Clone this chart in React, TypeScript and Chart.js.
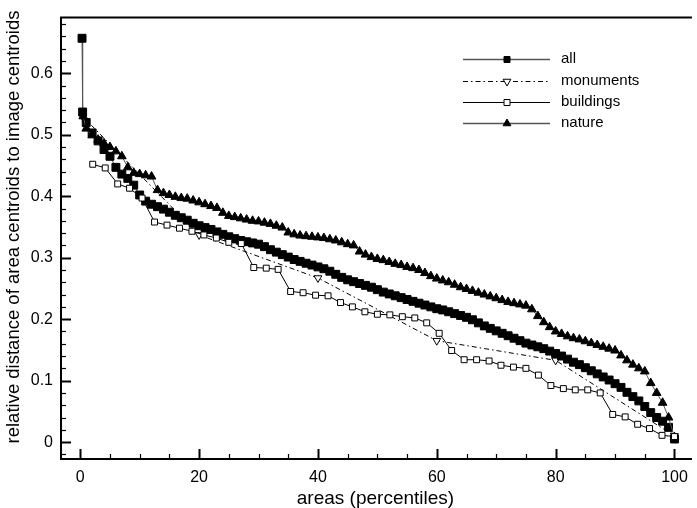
import { useEffect, useRef } from 'react';
import { Chart, registerables } from 'chart.js';

Chart.register(...registerables);

// ---- data ----
const allX = [0.3, 0.4, 1, 2, 3, 4, 5, 6, 7, 8, 9, 10, 11, 12, 13, 14, 15, 16, 17, 18, 19, 20, 21, 22, 23, 24, 25, 26, 27, 28, 29, 30, 31, 32, 33, 34, 35, 36, 37, 38, 39, 40, 41, 42, 43, 44, 45, 46, 47, 48, 49, 50, 51, 52, 53, 54, 55, 56, 57, 58, 59, 60, 61, 62, 63, 64, 65, 66, 67, 68, 69, 70, 71, 72, 73, 74, 75, 76, 77, 78, 79, 80, 81, 82, 83, 84, 85, 86, 87, 88, 89, 90, 91, 92, 93, 94, 95, 96, 97, 98, 99, 100];
const allY = [0.657, 0.537,
  0.52, 0.503, 0.49, 0.476, 0.465, 0.447, 0.436, 0.429, 0.418, 0.402,
  0.392, 0.387, 0.383, 0.379, 0.374, 0.369, 0.365, 0.361, 0.356, 0.352,
  0.349, 0.346, 0.342, 0.338, 0.334, 0.331, 0.328, 0.326, 0.324, 0.322,
  0.318, 0.313, 0.309, 0.305, 0.301, 0.297, 0.294, 0.291, 0.288, 0.285,
  0.282, 0.278, 0.273, 0.268, 0.264, 0.261, 0.258, 0.255, 0.252, 0.248,
  0.244, 0.241, 0.238, 0.235, 0.232, 0.229, 0.226, 0.223, 0.220, 0.217,
  0.215, 0.212, 0.209, 0.206, 0.203, 0.199, 0.194, 0.189, 0.185, 0.181,
  0.177, 0.173, 0.169, 0.165, 0.161, 0.158, 0.155, 0.152, 0.148, 0.144,
  0.140, 0.135, 0.130, 0.126, 0.121, 0.116, 0.111, 0.106, 0.101, 0.095,
  0.089, 0.081, 0.074, 0.067, 0.058, 0.048, 0.040, 0.034, 0.024, 0.005];

const monumentsX = [0.4, 20, 40, 60, 80, 100];
const monumentsY = [0.53, 0.337, 0.267, 0.165, 0.133, 0.01];

const buildingsX = [2.1, 4.2, 6.3, 8.3, 10.4, 12.5, 14.6, 16.7, 18.8, 20.8, 22.9, 25.0, 27.1, 29.2, 31.3, 33.3, 35.4, 37.5, 39.6, 41.7, 43.8, 45.8, 47.9, 50.0, 52.1, 54.2, 56.3, 58.3, 60.4, 62.5, 64.6, 66.7, 68.8, 70.8, 72.9, 75.0, 77.1, 79.2, 81.3, 83.3, 85.4, 87.5, 89.6, 91.7, 93.8, 95.8, 97.9, 100];
const buildingsY = [0.452, 0.446, 0.420, 0.413, 0.397, 0.358, 0.353, 0.348, 0.343, 0.337, 0.332, 0.325,
  0.323, 0.284, 0.283, 0.281, 0.245, 0.243, 0.239, 0.238, 0.227, 0.220, 0.212, 0.208,
  0.207, 0.204, 0.202, 0.194, 0.177, 0.149, 0.134, 0.134, 0.132, 0.125, 0.122, 0.120,
  0.109, 0.092, 0.087, 0.085, 0.085, 0.080, 0.045, 0.041, 0.029, 0.022, 0.011, 0.009];

const natureX = [0.5, 1, 2, 3, 4, 5, 6, 7, 8, 9, 10, 11, 12, 13, 14, 15, 16, 17, 18, 19, 20, 21, 22, 23, 24, 25, 26, 27, 28, 29, 30, 31, 32, 33, 34, 35, 36, 37, 38, 39, 40, 41, 42, 43, 44, 45, 46, 47, 48, 49, 50, 51, 52, 53, 54, 55, 56, 57, 58, 59, 60, 61, 62, 63, 64, 65, 66, 67, 68, 69, 70, 71, 72, 73, 74, 75, 76, 77, 78, 79, 80, 81, 82, 83, 84, 85, 86, 87, 88, 89, 90, 91, 92, 93, 94, 95, 96, 97, 98, 99, 100];
const natureY = [0.53,
  0.51, 0.499, 0.492, 0.486, 0.48, 0.473, 0.465, 0.447, 0.438, 0.436,
  0.434, 0.432, 0.41, 0.405, 0.402, 0.399, 0.397, 0.396, 0.393, 0.390,
  0.387, 0.384, 0.381, 0.373, 0.368, 0.366, 0.364, 0.362, 0.360, 0.359,
  0.357, 0.355, 0.352, 0.349, 0.341, 0.338, 0.336, 0.335, 0.334, 0.333,
  0.332, 0.330, 0.328, 0.325, 0.322, 0.320, 0.310, 0.305, 0.301, 0.298,
  0.296, 0.293, 0.290, 0.288, 0.285, 0.283, 0.280, 0.275, 0.270, 0.266,
  0.263, 0.260, 0.256, 0.252, 0.249, 0.246, 0.243, 0.240, 0.237, 0.234,
  0.231, 0.228, 0.226, 0.224, 0.222, 0.216, 0.205, 0.195, 0.187, 0.180,
  0.176, 0.172, 0.169, 0.167, 0.164, 0.161, 0.158, 0.155, 0.152, 0.149,
  0.141, 0.133, 0.126, 0.120, 0.115, 0.096, 0.080, 0.064, 0.040, 0.008];

const seriesNames = ['all', 'monuments', 'buildings', 'nature'];
const xTitle = 'areas (percentiles)';
const yTitle = 'relative distance of area centroids to image centroids';

const FONT = "'Liberation Sans', Arial, Helvetica, sans-serif";

function pts(xs: number[], ys: number[]) {
  return xs.map((x, i) => ({ x, y: ys[i] }));
}

function isMult(v: number, step: number) {
  const r = v / step;
  return Math.abs(r - Math.round(r)) < 1e-6;
}

const framePlugin = {
  id: 'frameTicks',
  afterDraw(chart: any) {
    const { ctx, chartArea } = chart;
    const xs = chart.scales.x;
    const ys = chart.scales.y;
    ctx.save();
    ctx.strokeStyle = '#000';
    xs.ticks.forEach((t: any) => {
      if (!isMult(t.value, 5)) return;
      const major = isMult(t.value, 20);
      const px = Math.round(xs.getPixelForValue(t.value)) + 0.5;
      ctx.lineWidth = major ? 2 : 1.2;
      ctx.beginPath();
      ctx.moveTo(px, chartArea.bottom);
      ctx.lineTo(px, chartArea.bottom - (major ? 10 : 5));
      ctx.stroke();
    });
    ys.ticks.forEach((t: any) => {
      if (!isMult(t.value, 0.02)) return;
      const major = isMult(t.value, 0.1);
      const py = Math.round(ys.getPixelForValue(t.value)) + 0.5;
      ctx.lineWidth = major ? 2 : 1.2;
      ctx.beginPath();
      ctx.moveTo(chartArea.left, py);
      ctx.lineTo(chartArea.left + (major ? 10 : 5), py);
      ctx.stroke();
    });
    ctx.lineWidth = 2;
    ctx.beginPath();
    ctx.moveTo(chartArea.right + 2, chartArea.top);
    ctx.lineTo(chartArea.left, chartArea.top);
    ctx.lineTo(chartArea.left, chartArea.bottom);
    ctx.lineTo(chartArea.right + 2, chartArea.bottom);
    ctx.stroke();

    ctx.fillStyle = '#000';
    ctx.font = `18.5px ${FONT}`;
    ctx.textAlign = 'center';
    ctx.textBaseline = 'middle';
    ctx.translate(14, 227);
    ctx.rotate(-Math.PI / 2);
    ctx.fillText(yTitle, 0, 0);
    ctx.restore();
  },
};

function drawMarker(ctx: CanvasRenderingContext2D, kind: string, x: number, y: number, fill: string) {
  ctx.beginPath();
  if (kind === 'rect') {
    ctx.rect(x - 3, y - 3, 6, 6);
  } else if (kind === 'up') {
    const r = 4.5;
    ctx.moveTo(x, y - r);
    ctx.lineTo(x + 0.866 * r, y + 0.5 * r);
    ctx.lineTo(x - 0.866 * r, y + 0.5 * r);
    ctx.closePath();
  } else {
    const r = 4.5;
    ctx.moveTo(x, y + r);
    ctx.lineTo(x + 0.866 * r, y - 0.5 * r);
    ctx.lineTo(x - 0.866 * r, y - 0.5 * r);
    ctx.closePath();
  }
  ctx.fillStyle = fill;
  ctx.fill();
  ctx.lineWidth = 1;
  ctx.strokeStyle = '#000';
  ctx.setLineDash([]);
  ctx.stroke();
}

const legendPlugin = {
  id: 'insideLegend',
  afterDraw(chart: any) {
    const { ctx } = chart;
    const rows = [59, 81, 102, 123];
    const x0 = 463, x1 = 550, xm = 507, xt = 561;
    const styles = [
      { color: '#555', width: 1.5, dash: [] as number[], marker: 'rect', fill: '#000' },
      { color: '#000', width: 1, dash: [5, 3, 1.5, 3], marker: 'down', fill: '#fff' },
      { color: '#000', width: 1, dash: [] as number[], marker: 'rect', fill: '#fff' },
      { color: '#555', width: 1.5, dash: [] as number[], marker: 'up', fill: '#000' },
    ];
    ctx.save();
    seriesNames.forEach((name, i) => {
      const s = styles[i];
      const y = rows[i] + 0.5;
      ctx.strokeStyle = s.color;
      ctx.lineWidth = s.width;
      ctx.setLineDash(s.dash);
      ctx.beginPath();
      ctx.moveTo(x0, y);
      ctx.lineTo(x1, y);
      ctx.stroke();
      drawMarker(ctx, s.marker, xm, y, s.fill);
      ctx.fillStyle = '#000';
      ctx.font = `15px ${FONT}`;
      ctx.textAlign = 'left';
      ctx.textBaseline = 'middle';
      ctx.fillText(name, xt, rows[i]);
    });
    ctx.restore();
  },
};

export default function App() {
  const ref = useRef<HTMLCanvasElement>(null);
  useEffect(() => {
    if (!ref.current) return;
    const chart = new Chart(ref.current, {
      type: 'line',
      data: {
        datasets: [
          {
            label: seriesNames[0],
            data: pts(allX, allY),
            borderColor: '#555',
            borderWidth: 1,
            pointStyle: 'rect',
            pointRadius: 5.6,
            pointBackgroundColor: '#000',
            pointBorderColor: '#000',
            pointBorderWidth: 1,
            order: 3,
          },
          {
            label: seriesNames[1],
            data: pts(monumentsX, monumentsY),
            borderColor: '#000',
            borderWidth: 1,
            borderDash: [5, 3, 1.5, 3],
            pointStyle: 'triangle',
            rotation: 180,
            pointRadius: 4.5,
            pointBackgroundColor: '#fff',
            pointBorderColor: '#000',
            pointBorderWidth: 1,
            order: 4,
          },
          {
            label: seriesNames[2],
            data: pts(buildingsX, buildingsY),
            borderColor: '#000',
            borderWidth: 1,
            pointStyle: 'rect',
            pointRadius: 4.2,
            pointBackgroundColor: '#fff',
            pointBorderColor: '#000',
            pointBorderWidth: 1,
            order: 0,
          },
          {
            label: seriesNames[3],
            data: pts(natureX, natureY),
            borderColor: '#555',
            borderWidth: 1,
            pointStyle: 'triangle',
            pointRadius: 5,
            pointBackgroundColor: '#000',
            pointBorderColor: '#000',
            pointBorderWidth: 1,
            order: 2,
          },
        ],
      },
      options: {
        animation: false,
        responsive: false,
        devicePixelRatio: 1,
        events: [],
        layout: { padding: { top: 15, left: 0, right: 0, bottom: 0 } },
        plugins: { legend: { display: false }, tooltip: { enabled: false } },
        elements: { line: { tension: 0 } },
        scales: {
          x: {
            type: 'linear',
            min: -3.24,
            max: 102.6,
            grid: { display: false, drawTicks: false },
            border: { display: false },
            ticks: {
              stepSize: 5,
              includeBounds: false,
              autoSkip: false,
              maxRotation: 0,
              padding: 9,
              color: '#000',
              font: { family: FONT, size: 16 },
              callback: (v: any) => (isMult(Number(v), 20) ? String(Math.round(Number(v))) : ''),
            },
            title: {
              display: true,
              text: xTitle,
              color: '#000',
              font: { family: FONT, size: 19, lineHeight: 1 },
              padding: { top: 0, bottom: 0 },
            },
            afterFit: (s: any) => { s.height = 49; },
          },
          y: {
            type: 'linear',
            min: -0.0275,
            max: 0.6906,
            grid: { display: false, drawTicks: false },
            border: { display: false },
            ticks: {
              stepSize: 0.02,
              includeBounds: false,
              autoSkip: false,
              padding: 8,
              color: '#000',
              font: { family: FONT, size: 16 },
              callback: (v: any) => {
                const n = Number(v);
                if (!isMult(n, 0.1)) return '';
                const r = Math.round(n * 10) / 10;
                return r === 0 ? '0' : r.toFixed(1);
              },
            },
            afterFit: (s: any) => { s.width = 61; },
          },
        },
      },
      plugins: [framePlugin, legendPlugin],
    });
    return () => chart.destroy();
  }, []);
  return (
    <div style={{ position: 'fixed', left: 0, top: 0, width: 697, height: 508, background: '#fff' }}>
      <canvas ref={ref} width={697} height={508} style={{ display: 'block', width: 697, height: 508 }} />
    </div>
  );
}
